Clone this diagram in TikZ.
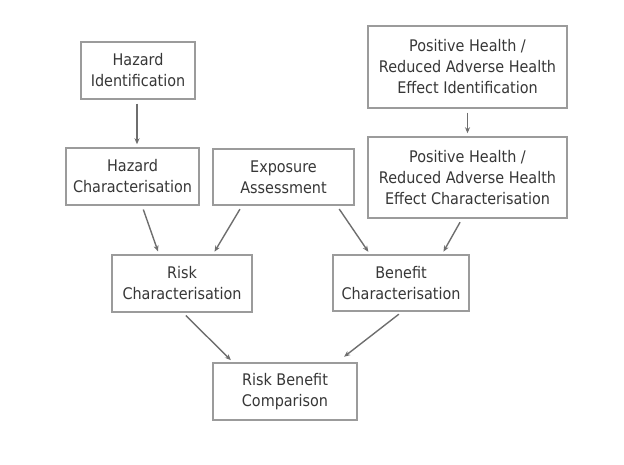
\documentclass[tikz,border=0pt]{standalone}
\usepackage{fontspec}
\usetikzlibrary{arrows.meta}
\setmainfont{DejaVu Sans Condensed}
\definecolor{boxgray}{RGB}{155,155,155}
\definecolor{txtgray}{RGB}{55,55,55}
\definecolor{arrgray}{RGB}{110,110,110}
\begin{document}
\begin{tikzpicture}[x=1pt,y=-1pt,
        stagebox/.style={draw=boxgray,line width=1.5pt,fill=white,align=center,
            text=txtgray,inner sep=0pt,font=\fontsize{16}{21}\selectfont},
        flow/.style={-{Stealth[length=6pt,width=5pt]},draw=arrgray,line width=1.4pt,
            shorten <=4pt,shorten >=3pt}]
        \useasboundingbox (0,0) rectangle (624,465);

        % Hazard side
        \node[stagebox,minimum width=114pt,minimum height=57pt] (hazid) at (138,70.5) {Hazard\\Identification};
        \node[stagebox,minimum width=133pt,minimum height=57pt] (hazchar) at (132.5,176.5) {Hazard\\Characterisation};
        \node[stagebox,minimum width=141pt,minimum height=56pt] (expo) at (283.5,177) {Exposure\\Assessment};

        % Benefit side
        \node[stagebox,minimum width=199pt,minimum height=82pt] (posid) at (467.5,67) {Positive Health /\\Reduced Adverse Health\\Effect Identification};
        \node[stagebox,minimum width=199pt,minimum height=81pt] (poschar) at (467.5,177.5) {Positive Health /\\Reduced Adverse Health\\Effect Characterisation};

        % Characterisation and comparison
        \node[stagebox,minimum width=140pt,minimum height=57pt] (riskchar) at (182,283.5) {Risk\\Characterisation};
        \node[stagebox,minimum width=136pt,minimum height=56pt] (benchar) at (401,283) {Benefit\\Characterisation};
        \node[stagebox,minimum width=144pt,minimum height=57pt] (compare) at (285,391.5) {Risk Benefit\\Comparison};

        % Arrows
        \draw[flow] ([xshift=-1pt]hazid.south) -- ([xshift=-1pt]hazchar.north -| hazid.south);
        \draw[flow] (posid.south) -- (poschar.north);
        \draw[flow] ([xshift=9.5pt]hazchar.south) -- ([xshift=-23pt]riskchar.north);
        \draw[flow] ([xshift=-41.5pt]expo.south) -- ([xshift=31pt]riskchar.north);
        \draw[flow] ([xshift=53.5pt]expo.south) -- ([xshift=-31pt]benchar.north);
        \draw[flow] ([xshift=-5.5pt]poschar.south) -- ([xshift=41pt]benchar.north);
        \draw[flow] ([xshift=1pt]riskchar.south) -- ([xshift=-52pt]compare.north);
        \draw[flow,shorten >=9pt] ([xshift=1pt]benchar.south) -- ([xshift=52pt]compare.north);
    \end{tikzpicture}
\end{document}
